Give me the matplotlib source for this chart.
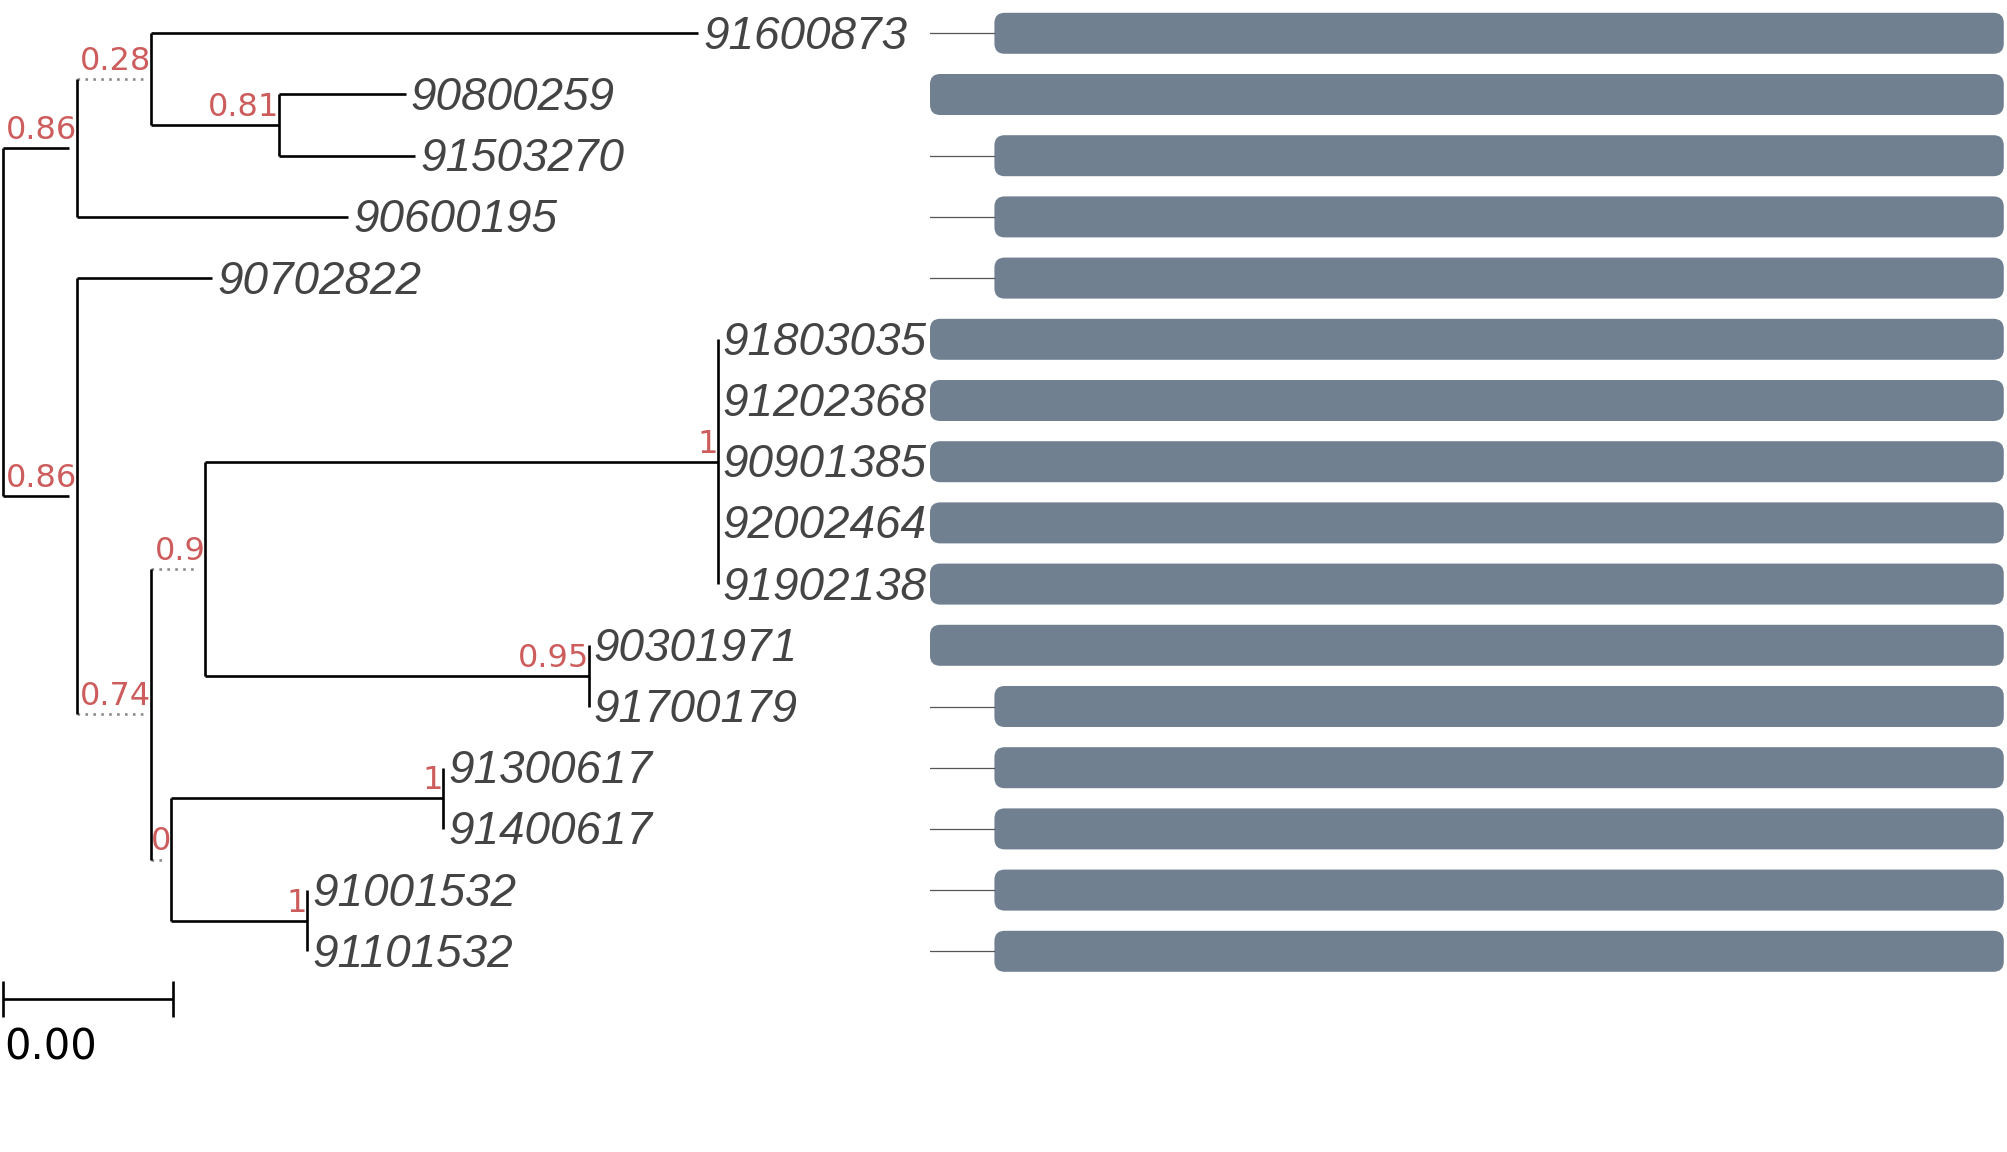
import matplotlib
matplotlib.use("Agg")
import matplotlib.pyplot as plt
from matplotlib.patches import FancyBboxPatch

# tips, top to bottom
tip_labels = ['91600873', '90800259', '91503270', '90600195', '90702822',
              '91803035', '91202368', '90901385', '92002464', '91902138',
              '90301971', '91700179', '91300617', '91400617', '91001532',
              '91101532']
tip_depth = [8.18, 4.74, 4.85, 4.06, 2.46, 8.41, 8.41, 8.41, 8.41, 8.41,
             6.89, 6.89, 5.18, 5.18, 3.58, 3.58]
tip_parent = ['B', 'C', 'C', 'A', 'D', 'H', 'H', 'H', 'H', 'H',
              'I', 'I', 'J', 'J', 'K', 'K']

# internal nodes
node_names = ['root', 'A', 'B', 'C', 'D', 'E', 'F', 'H', 'I', 'G', 'J', 'K']
node_depth = [0.0, 0.87, 1.74, 3.25, 0.87, 1.74, 2.38, 8.41, 6.89, 1.98, 5.18, 3.58]
node_parent = [None, 'root', 'A', 'B', 'root', 'D', 'E', 'F', 'F', 'E', 'G', 'G']
node_support = ['', '0.86', '0.28', '0.81', '0.86', '0.74', '0.9', '1', '0.95', '0', '1', '1']

# alignment bars on the right
bar_start = [60, 0, 60, 60, 60, 0, 0, 0, 0, 0, 0, 60, 60, 60, 60, 60]
bar_end = [1000] * 16

scale_len = 2.0
scale_label = '0.00'

# edge look per internal node
edge_style = {'A': 'gap', 'D': 'gap', 'B': 'dot', 'E': 'dot', 'F': 'dot', 'G': 'dot'}

W, H, DPI = 2007, 1152, 100
fig = plt.figure(figsize=(W / DPI, H / DPI), dpi=DPI)
fig.patch.set_facecolor('white')

row_px = 61.2
top_px = 33.3
unit_px = 85.0
ymin = -top_px / row_px
ymax = (H - top_px) / row_px
split_px = 930

ax = fig.add_axes([0, 0, split_px / W, 1])
ax.set_xlim(-3 / unit_px, (split_px - 3) / unit_px)
ax.set_ylim(ymax, ymin)
ax.axis('off')

bx = fig.add_axes([split_px / W, 0, (W - split_px) / W, 1])
bx.set_xlim(0, 1003)
bx.set_ylim(ymax, ymin)
bx.axis('off')

# y positions: tips by row, internal nodes at mean of children
depth = dict(zip(node_names, node_depth))
parent = dict(zip(node_names, node_parent))
children = {n: [] for n in node_names}
ypos = {}
for i, (lab, p) in enumerate(zip(tip_labels, tip_parent)):
    ypos[lab] = i
    depth[lab] = tip_depth[i]
    parent[lab] = p
    children[p].append(lab)
for n in node_names:
    if parent[n] is not None:
        children[parent[n]].append(n)


def get_y(n):
    if n not in ypos:
        ys = [get_y(c) for c in children[n]]
        ypos[n] = sum(ys) / len(ys)
    return ypos[n]


get_y('root')

lw = 1.9
gap = 8 / unit_px
for n in list(parent):
    p = parent[n]
    if p is None:
        continue
    st = edge_style.get(n, 'solid')
    x0, x1 = depth[p], depth[n]
    if st == 'dot':
        ax.plot([x0, x1 - gap], [ypos[n]] * 2, color='#8c8c8c', lw=lw,
                ls=(0, (1, 2.0)), solid_capstyle='butt')
    elif st == 'gap':
        ax.plot([x0, x1 - gap], [ypos[n]] * 2, color='black', lw=lw,
                solid_capstyle='butt')
    else:
        ax.plot([x0, x1], [ypos[n]] * 2, color='black', lw=lw,
                solid_capstyle='butt')

for n in node_names:
    ys = [ypos[c] for c in children[n]]
    ax.plot([depth[n]] * 2, [min(ys), max(ys)], color='black', lw=lw,
            solid_capstyle='butt')

# support values
for n, s in zip(node_names, node_support):
    if s:
        ax.annotate(s, (depth[n], ypos[n]), xytext=(0, 6.5),
                    textcoords='offset points', ha='right', va='baseline',
                    color='#cd5c5c', fontsize=23, family='DejaVu Sans')

# tip labels
for lab, d in zip(tip_labels, tip_depth):
    ax.annotate(lab, (d, ypos[lab]), xytext=(3.5, -2.5), textcoords='offset points',
                ha='left', va='center', fontsize=33, style='italic',
                color='#444444', family=['Liberation Sans', 'DejaVu Sans'])

# scale bar
sy = len(tip_labels) - 1 + 0.78
ax.plot([0, scale_len], [sy, sy], color='black', lw=lw, solid_capstyle='butt')
for sx in (0, scale_len):
    ax.plot([sx, sx], [sy - 0.29, sy + 0.29], color='black', lw=lw,
            solid_capstyle='butt')
ax.annotate(scale_label, (0, sy), xytext=(1.0, -20), textcoords='offset points',
            ha='left', va='top', fontsize=30, color='black',
            family='DejaVu Sans')

# bars
bar_h = 0.67
asp = (1 / row_px) / (1 / 1.074)
for i, (s, e) in enumerate(zip(bar_start, bar_end)):
    if s > 0:
        bx.plot([0, s], [i, i], color='#555555', lw=0.9)
    box = FancyBboxPatch((s, i - bar_h / 2), e - s, bar_h,
                         boxstyle='round,pad=0,rounding_size=9.5',
                         mutation_aspect=asp, facecolor='#708090',
                         edgecolor='none')
    bx.add_patch(box)

fig.savefig('out.png', dpi=DPI, facecolor='white')
